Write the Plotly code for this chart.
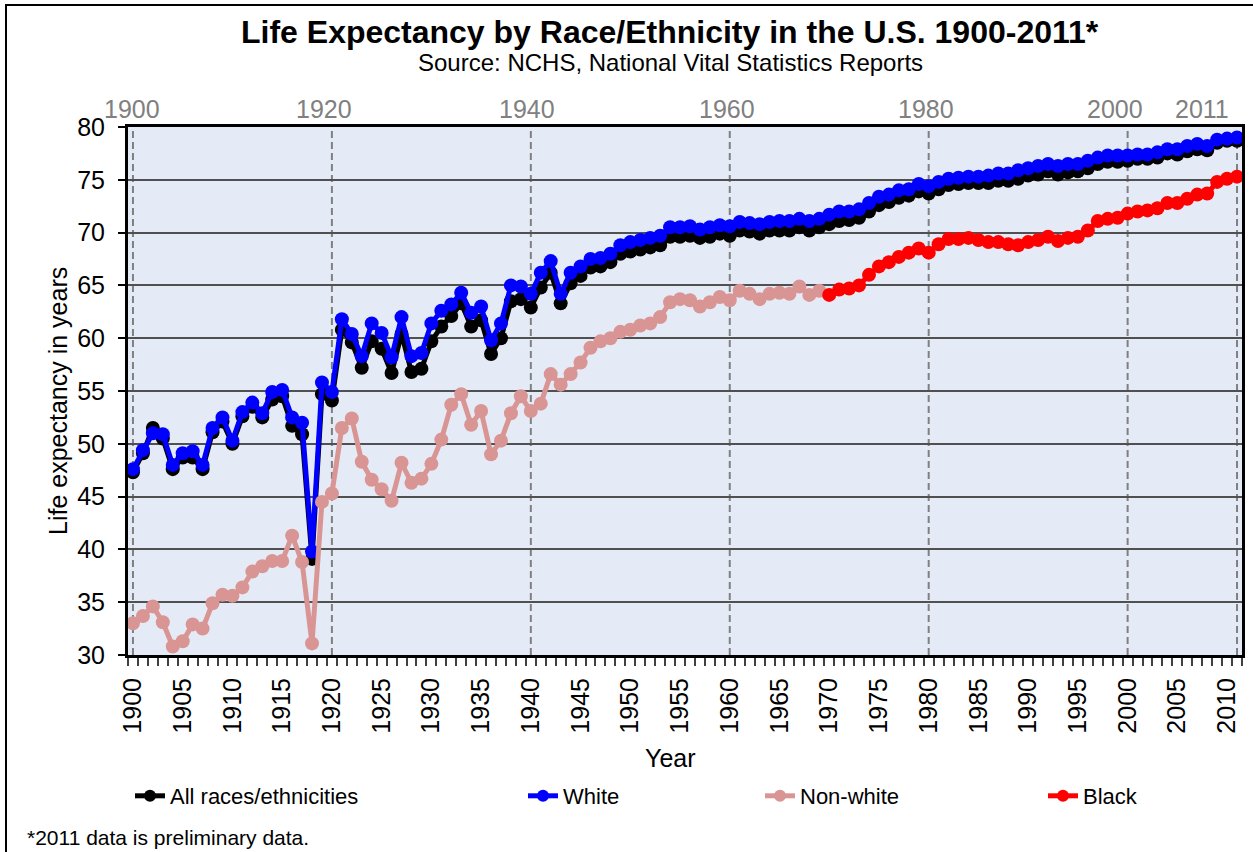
import plotly.graph_objects as go

years = list(range(1900, 2012))

all_races = [
    47.3, 49.1, 51.5, 50.5, 47.6, 48.7, 48.7, 47.6, 51.1, 52.1,
    50.0, 52.6, 53.5, 52.5, 54.2, 54.5, 51.7, 50.9, 39.1, 54.7,
    54.1, 60.8, 59.6, 57.2, 59.7, 59.0, 56.7, 60.4, 56.8, 57.1,
    59.7, 61.1, 62.1, 63.3, 61.1, 61.7, 58.5, 60.0, 63.5, 63.7,
    62.9, 64.8, 66.2, 63.3, 65.2, 65.9, 66.7, 66.8, 67.2, 68.0,
    68.2, 68.4, 68.6, 68.8, 69.6, 69.6, 69.7, 69.5, 69.6, 69.9,
    69.7, 70.2, 70.1, 69.9, 70.2, 70.2, 70.2, 70.5, 70.2, 70.5,
    70.8, 71.1, 71.2, 71.4, 72.0, 72.6, 72.9, 73.3, 73.5, 73.9,
    73.7, 74.1, 74.5, 74.6, 74.7, 74.7, 74.7, 74.9, 74.9, 75.1,
    75.4, 75.5, 75.8, 75.5, 75.7, 75.8, 76.1, 76.5, 76.7, 76.7,
    76.8, 77.0, 77.0, 77.1, 77.5, 77.4, 77.7, 77.9, 77.8, 78.5,
    78.7, 78.7,
]

white = [
    47.6, 49.4, 51.0, 50.9, 48.0, 49.1, 49.3, 48.0, 51.5, 52.5,
    50.3, 53.0, 53.9, 52.9, 54.9, 55.1, 52.5, 52.0, 39.8, 55.8,
    54.9, 61.8, 60.4, 58.3, 61.4, 60.5, 58.2, 62.0, 58.3, 58.6,
    61.4, 62.6, 63.2, 64.3, 62.4, 63.0, 59.8, 61.4, 65.0, 64.9,
    64.2, 66.2, 67.3, 64.2, 66.2, 66.8, 67.5, 67.6, 68.0, 68.8,
    69.1, 69.3, 69.5, 69.7, 70.5, 70.5, 70.6, 70.3, 70.5, 70.7,
    70.6, 71.0, 70.9, 70.8, 71.0, 71.1, 71.1, 71.3, 71.1, 71.3,
    71.7, 72.0, 72.0, 72.2, 72.8, 73.4, 73.6, 74.0, 74.1, 74.6,
    74.4, 74.8, 75.1, 75.2, 75.3, 75.3, 75.4, 75.6, 75.6, 75.9,
    76.1, 76.3, 76.5, 76.3, 76.5, 76.5, 76.8, 77.1, 77.3, 77.3,
    77.3, 77.4, 77.4, 77.6, 77.9, 77.9, 78.2, 78.4, 78.2, 78.8,
    78.9, 79.0,
]

nonwhite_years = list(range(1900, 1970))
nonwhite = [
    33.0, 33.7, 34.6, 33.1, 30.8, 31.3, 32.9, 32.5, 34.9, 35.7,
    35.6, 36.4, 37.9, 38.4, 38.9, 38.9, 41.3, 38.8, 31.1, 44.5,
    45.3, 51.5, 52.4, 48.3, 46.6, 45.7, 44.6, 48.2, 46.3, 46.7,
    48.1, 50.4, 53.7, 54.7, 51.8, 53.1, 49.0, 50.3, 52.9, 54.5,
    53.1, 53.8, 56.6, 55.6, 56.6, 57.7, 59.1, 59.7, 60.0, 60.6,
    60.8, 61.2, 61.4, 62.0, 63.4, 63.7, 63.6, 63.0, 63.4, 63.9,
    63.6, 64.5, 64.2, 63.7, 64.2, 64.3, 64.2, 64.9, 64.1, 64.5,
]

black_years = list(range(1970, 2012))
black = [
    64.1, 64.6, 64.7, 65.0, 66.0, 66.8, 67.2, 67.7, 68.1, 68.5,
    68.1, 68.9, 69.4, 69.4, 69.5, 69.3, 69.1, 69.1, 68.9, 68.8,
    69.1, 69.3, 69.6, 69.2, 69.5, 69.6, 70.2, 71.1, 71.3, 71.4,
    71.8, 72.0, 72.1, 72.3, 72.8, 72.8, 73.2, 73.6, 73.7, 74.8,
    75.1, 75.3,
]

marker_years = [1900, 1920, 1940, 1960, 1980, 2000, 2011]
marker_label_pos = [1899.9, 1919.2, 1939.6, 1959.7, 1979.7, 1998.7, 2007.5]
tick_years = list(range(1900, 2011, 5))

series_names = ["All races/ethnicities", "White", "Non-white", "Black"]
colors = ["#000000", "#0000FF", "#D99594", "#FF0000"]

# layout geometry (pixels)
W, H = 1253, 852
L, R, T, B = 128, 11, 127, 197
PW = W - L - R
PH = H - T - B


def px_x(p):
    return (p - L) / PW


def px_y(p):
    return (H - B - p) / PH


fig = go.Figure()
data_sets = [(years, all_races), (years, white), (nonwhite_years, nonwhite), (black_years, black)]
legend_ids = ["legend", "legend2", "legend3", "legend4"]
for (xs, ys), name, c, lg in zip(data_sets, series_names, colors, legend_ids):
    fig.add_trace(go.Scatter(
        x=xs, y=ys, mode="lines+markers", name=name,
        line=dict(color=c, width=5),
        marker=dict(color=c, size=14),
        legend=lg,
    ))

shapes = []
for yr in marker_years:
    shapes.append(dict(type="line", xref="x", yref="y", x0=yr, x1=yr, y0=30, y1=80,
                       line=dict(color="#808080", width=2, dash="7px,4px"), layer="below"))
# outer frame
shapes.append(dict(type="rect", xref="paper", yref="paper",
                   x0=px_x(6), x1=px_x(1300), y0=px_y(900), y1=px_y(5),
                   line=dict(color="#000000", width=2), fillcolor="rgba(0,0,0,0)"))

annotations = []
for yr, pos in zip(marker_years, marker_label_pos):
    annotations.append(dict(x=pos, y=px_y(109), xref="x", yref="paper", text=str(yr),
                            showarrow=False, font=dict(size=25, color="#808080"),
                            xanchor="center", yanchor="middle"))
annotations += [
    dict(x=px_x(670), y=px_y(32), xref="paper", yref="paper",
         text="<b>Life Expectancy by Race/Ethnicity in the U.S. 1900-2011*</b>",
         showarrow=False, font=dict(size=32, color="#000000"), xanchor="center", yanchor="middle"),
    dict(x=px_x(670), y=px_y(62), xref="paper", yref="paper",
         text="Source: NCHS, National Vital Statistics Reports",
         showarrow=False, font=dict(size=24, color="#000000"), xanchor="center", yanchor="middle"),
    dict(x=px_x(58), y=px_y(401), xref="paper", yref="paper",
         text="Life expectancy in years", textangle=-90,
         showarrow=False, font=dict(size=25, color="#000000"), xanchor="center", yanchor="middle"),
    dict(x=px_x(670), y=px_y(758), xref="paper", yref="paper", text="Year",
         showarrow=False, font=dict(size=25, color="#000000"), xanchor="center", yanchor="middle"),
    dict(x=px_x(25), y=px_y(851), xref="paper", yref="paper",
         text="*2011 data is preliminary data.",
         showarrow=False, font=dict(size=21, color="#000000"), xanchor="left", yanchor="bottom"),
]

legend_x = [130, 523, 760, 1043]
legend_cfg = {}
for lg, lx in zip(legend_ids, legend_x):
    legend_cfg[lg] = dict(x=px_x(lx), y=px_y(796), xanchor="left", yanchor="middle",
                          xref="paper", yref="paper", orientation="h",
                          bgcolor="rgba(0,0,0,0)", borderwidth=0,
                          font=dict(size=22, color="#000000"),
                          itemsizing="constant", tracegroupgap=0)

fig.update_layout(
    width=W, height=H, autosize=False,
    margin=dict(l=L, r=R, t=T, b=B, pad=0),
    paper_bgcolor="#FFFFFF",
    plot_bgcolor="#E5EBF6",
    font=dict(family="Liberation Sans, Arial, sans-serif", color="#000000"),
    showlegend=True,
    shapes=shapes,
    annotations=annotations,
    **legend_cfg,
)

fig.update_xaxes(
    range=[1899.5, 2011.5], automargin=False,
    tickmode="array", tickvals=tick_years, ticktext=[str(t) for t in tick_years],
    tickangle=-90, tickfont=dict(size=25, color="#000000"),
    ticks="", ticklabelstandoff=10,
    minor=dict(tickmode="linear", tick0=1899.5, dtick=1, ticks="outside",
               ticklen=8, tickcolor="#404040", tickwidth=1.5, showgrid=False),
    showgrid=False, zeroline=False,
    showline=True, linecolor="#000000", linewidth=3, mirror=True,
)
fig.update_yaxes(
    range=[30, 80], dtick=5, tick0=30, automargin=False,
    tickfont=dict(size=25, color="#000000"),
    ticks="outside", ticklen=7, tickcolor="#000000", tickwidth=1.5,
    ticklabelstandoff=8,
    showgrid=True, gridcolor="#505050", gridwidth=1.5,
    zeroline=False,
    showline=True, linecolor="#000000", linewidth=3, mirror=True,
)

fig.write_html(
    "out.html",
    config={"displayModeBar": False},
    post_script="document.body.style.margin='0';document.body.style.overflow='hidden';",
)
